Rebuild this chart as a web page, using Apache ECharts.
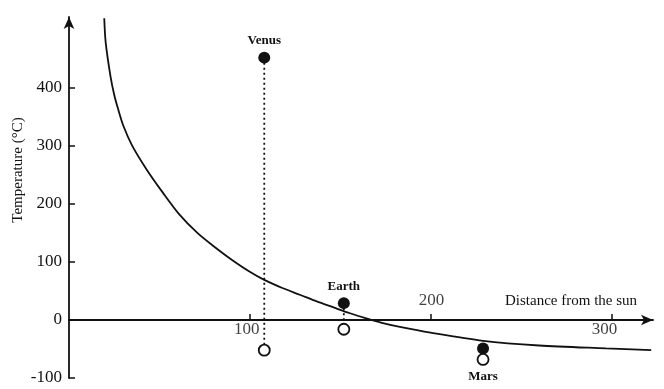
<!DOCTYPE html>
<html>
<head>
<meta charset="utf-8">
<script src="https://cdn.jsdelivr.net/npm/echarts@6/dist/echarts.min.js"></script>
<style>html,body{margin:0;padding:0;background:#fff}#c{width:664px;height:389px}</style>
</head>
<body>
<div id="c"></div>
<script>
// Curve: [distance, temperature]
const curveX = [19.5, 20.3, 23, 25, 27, 30, 35, 43, 52, 61, 71, 80, 89, 100, 108, 118, 128, 137, 146, 155, 164, 173, 183, 200, 229, 260, 297, 322];
const curveY = [520, 478, 419, 388, 365, 335, 300, 259, 219, 182, 150, 127, 106, 83, 69, 55, 43, 32, 22, 12, 3, -5, -12, -22, -36, -44, -49, -52];

const planets = ['Venus', 'Earth', 'Mars'];
const planetX = [108, 152, 229];
const measuredT = [452, 29, -49];   // filled dots
const predictedT = [-52, -16, -68]; // open dots

const yTicks = [-100, 0, 100, 200, 300, 400];
const xTicks = [100, 200, 300];
const xTickLabels = ['100', '200', '300'];

const serif = '"Liberation Serif", "DejaVu Serif", serif';
const ink = '#111';

const curveData = curveX.map((x, i) => [x, curveY[i]]);
const filledData = planets.map((p, i) => ({
  value: [planetX[i], measuredT[i]],
  label: p === 'Mars' ? { show: false } : { show: true, formatter: p, position: 'top', distance: 4 }
}));
const openData = planets.map((p, i) => ({
  value: [planetX[i], predictedT[i]],
  label: p === 'Mars' ? { show: true, formatter: p, position: 'bottom', distance: 4 } : { show: false }
}));
const tickLabelOffsets = [[-3, 10], [1, -19], [-7, 10]];
const tickLabelData = xTicks.map((x, i) => ({
  value: [x, 0],
  label: { show: true, formatter: xTickLabels[i], position: 'inside', offset: tickLabelOffsets[i] }
}));

const dropLines = [0, 1].map(i => ({
  type: 'line',
  data: [[planetX[i], measuredT[i]], [planetX[i], predictedT[i]]],
  symbol: 'none',
  lineStyle: { color: ink, width: 1.8, type: [2, 3] },
  z: 3,
  silent: true
}));

const chart = echarts.init(document.getElementById('c'));
chart.setOption({
  animation: false,
  backgroundColor: '#fff',
  grid: { left: 69, right: 11, top: 17, bottom: 11 },
  xAxis: {
    type: 'value', min: 0, max: 323,
    axisLine: { show: true, onZero: true, symbol: ['none', 'arrow'], symbolSize: [8, 12], lineStyle: { color: ink, width: 1.8 } },
    axisTick: { show: true, inside: true, length: 6, customValues: xTicks, lineStyle: { color: ink, width: 1.5 } },
    axisLabel: { show: false },
    splitLine: { show: false }
  },
  yAxis: {
    type: 'value', min: -100, max: 522,
    axisLine: { show: true, symbol: ['none', 'arrow'], symbolSize: [8, 12], lineStyle: { color: ink, width: 1.8 } },
    axisTick: { show: true, inside: true, length: 6, customValues: yTicks, lineStyle: { color: ink, width: 1.5 } },
    axisLabel: { show: true, customValues: yTicks, margin: 7, color: ink, fontFamily: serif, fontSize: 17 },
    splitLine: { show: false }
  },
  graphic: [
    { type: 'text', x: 18, y: 170, rotation: Math.PI / 2,
      style: { text: 'Temperature (°C)', fill: ink, font: '15px ' + serif, textAlign: 'center', textVerticalAlign: 'middle' } },
    { type: 'text', x: 505, y: 301,
      style: { text: 'Distance from the sun', fill: ink, font: '15px ' + serif, textAlign: 'left', textVerticalAlign: 'middle' } }
  ],
  series: [
    { type: 'line', data: curveData, smooth: 0.3, symbol: 'none', lineStyle: { color: ink, width: 1.8 }, z: 2 },
    ...dropLines,
    { type: 'scatter', data: filledData, symbol: 'circle', symbolSize: 12,
      itemStyle: { color: ink, opacity: 1 },
      label: { color: ink, fontFamily: serif, fontSize: 13, fontWeight: 'bold' }, z: 5 },
    { type: 'scatter', data: openData, symbol: 'circle', symbolSize: 11,
      itemStyle: { color: '#fff', borderColor: ink, borderWidth: 1.8, opacity: 1 },
      label: { color: ink, fontFamily: serif, fontSize: 13, fontWeight: 'bold' }, z: 5 },
    { type: 'scatter', data: tickLabelData, symbolSize: 1, itemStyle: { color: 'rgba(0,0,0,0)' },
      label: { color: ink, fontFamily: serif, fontSize: 17 }, z: 6, silent: true }
  ]
});
</script>
</body>
</html>
